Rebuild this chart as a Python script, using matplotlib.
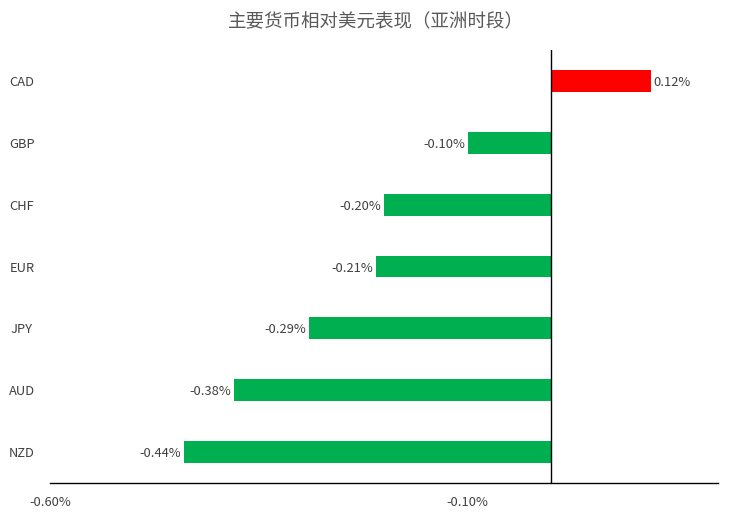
import matplotlib
matplotlib.use("Agg")
import matplotlib.pyplot as plt
from matplotlib.transforms import blended_transform_factory

plt.rcParams['font.family'] = ['Noto Sans CJK SC', 'DejaVu Sans']

categories = ["CAD", "GBP", "CHF", "EUR", "JPY", "AUD", "NZD"]
values = [0.12, -0.10, -0.20, -0.21, -0.29, -0.38, -0.44]
xticks = [-0.60, -0.10]
xtick_labels = ["-0.60%", "-0.10%"]
title = "主要货币相对美元表现（亚洲时段）"

fig = plt.figure(figsize=(7.52, 5.19), dpi=100)
ax = fig.add_axes([50/752, (519-483)/519, (718-50)/752, (483-50)/519])

n = len(categories)
ypos = list(range(n))[::-1]
colors = ["#FF0000" if v > 0 else "#00B050" for v in values]
ax.barh(ypos, values, height=0.355, color=colors)

ax.set_xlim(-0.60, 0.20)
ax.set_ylim(-0.5, n - 0.5)
ax.axvline(0, color="black", lw=1)

for s in ["left", "right", "top"]:
    ax.spines[s].set_visible(False)
ax.spines["bottom"].set_color("black")
ax.spines["bottom"].set_linewidth(1)

ax.set_xticks(xticks)
ax.set_xticklabels(xtick_labels, fontsize=9.3, color="#404040")
ax.tick_params(axis="x", length=0, pad=9)
ax.set_yticks([])

trans = blended_transform_factory(fig.transFigure, ax.transData)
for y, c in zip(ypos, categories):
    ax.text(22/752, y, c, transform=trans, ha="center", va="center_baseline",
            fontsize=9.3, color="#404040")

for y, v in zip(ypos, values):
    if v >= 0:
        ax.text(v + 0.003, y, f"{v:.2f}%", ha="left", va="center_baseline",
                fontsize=9.3, color="#404040")
    else:
        ax.text(v - 0.003, y, f"{v:.2f}%", ha="right", va="center_baseline",
                fontsize=9.3, color="#404040")

fig.text(0.5, 1 - 22/519, title, ha="center", va="center", fontsize=13.3,
         color="#595959")

fig.savefig("out.png", dpi=100)
